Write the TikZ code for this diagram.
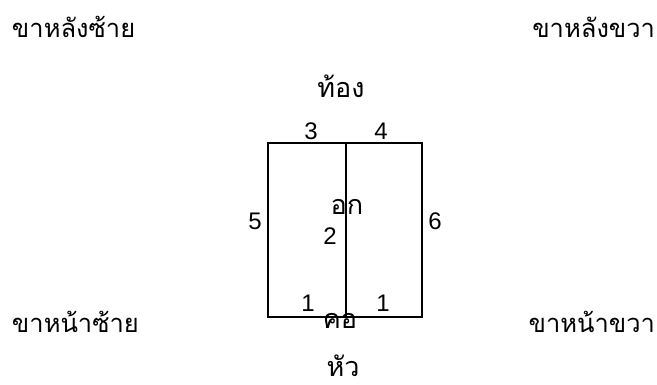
\documentclass[tikz,border=0pt]{standalone}
\usepackage{fontspec}
\setmainfont{Liberation Sans}
\newfontfamily\thaifont[Script=Thai]{Loma}
\usetikzlibrary{positioning}

\begin{document}
\begin{tikzpicture}[x=1pt,y=-1pt,
every node/.style={inner sep=0pt,outer sep=0pt},
leg/.style={font=\thaifont\fontsize{25.5}{26}\selectfont},
part/.style={font=\thaifont\fontsize{27}{27}\selectfont,anchor=base},
num/.style={font=\fontsize{24}{24}\selectfont,anchor=base}]
\useasboundingbox (0,0) rectangle (657,385);
% the two halves
\coordinate (TL) at (268,143);
\coordinate (TM) at (346,143);
\coordinate (TR) at (422,143);
\coordinate (BL) at (268,317);
\coordinate (BM) at (346,317);
\coordinate (BR) at (422,317);
\draw[line width=1.2pt] (TL)--(TR)--(BR)--(BL)--cycle;
\draw[line width=1.2pt] (TM)--(BM);
% legs
\node[leg,anchor=base west] (LHind) at (12,38) {ขาหลังซ้าย};
\node[leg,anchor=base east] (RHind) at (655,38) {ขาหลังขวา};
\node[leg,anchor=base west] (LFore) at (12,333) {ขาหน้าซ้าย};
\node[leg,anchor=base east] (RFore) at (655,333) {ขาหน้าขวา};
% parts
\node[part] (Belly) at (341,98) {ท้อง};
\node[part] (Chest) at (347,215) {อก};
\node[part] (Neck) at (340,328) {คอ};
\node[part] (Head) at (343,377) {หัว};
% numbers
\node[num] (N3) at (311,140) {3};
\node[num] (N4) at (381,140) {4};
\node[num] (N5) at (255,230) {5};
\node[num] (N6) at (435,230) {6};
\node[num] (N2) at (330,245) {2};
\node[num] (N1a) at (308,312) {1};
\node[num] (N1b) at (383,312) {1};
\end{tikzpicture}
\end{document}
